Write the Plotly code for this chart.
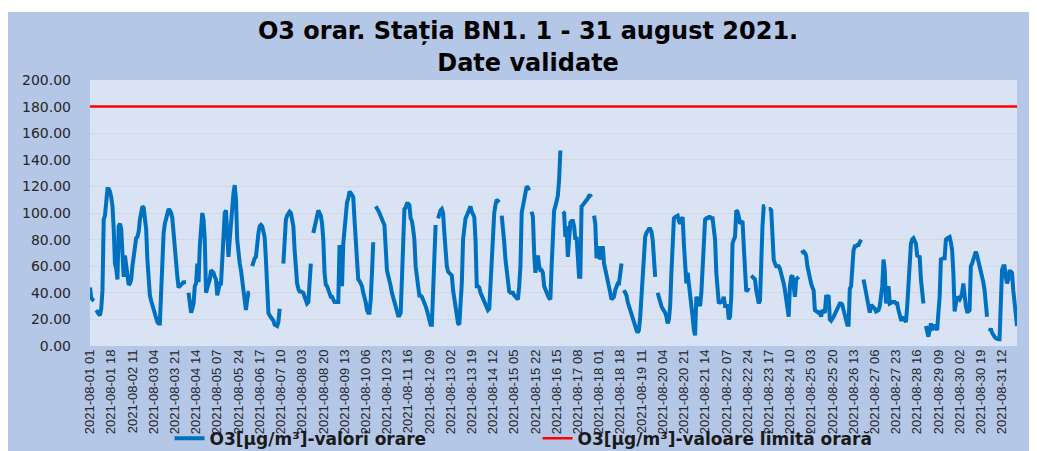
import plotly.graph_objects as go

# hourly O3 values [ug/m3], one list per day (hours 01..24), None = missing
d01 = [44, 36, 35, 36, None, 27, 25, 24, 23, 28, 42, 95, 98, 113, 118, 118, 116, 112, 105, 88, 62, 58, 50, 90]
d02 = [92, 88, 62, 52, 68, 58, 48, 46, 47, 50, 60, 67, 78, 81, 82, 86, 95, 100, 105, 104, 98, 88, 65, 45]
d03 = [38, 34, 31, 27, 24, 20, 18, 17, 17, 40, 65, 85, 92, 97, 102, 103, 102, 100, 96, 85, 68, 62, 52, 44]
d04 = [45, 46, 48, 48, 48, 48, None, 40, 30, 25, 28, 32, 45, 47, 62, 48, 75, 90, 100, 95, 80, 40, 45, 47]
d05 = [50, 57, 56, 55, 52, 50, 38, 45, 47, 47, 70, 85, 100, 102, 75, 67, 80, 92, 110, 115, 121, 110, 80, 65]
d06 = [62, 57, 48, 42, 35, 27, 35, 40, 40, None, 60, 64, 66, 67, 78, 85, 90, 91, 90, 86, 82, 65, 45, 25]
d07 = [23, 22, 21, 19, 16, 15, 15, 18, 28, None, None, 62, 80, 95, 98, 100, 101, 100, 96, 90, 72, 55, 47, 43]
d08 = [41, 41, 40, 40, 37, 33, 32, 33, 50, 62, None, 85, 90, 92, 100, 102, 100, 98, 92, 80, 55, 46, 45, 42]
d09 = [40, 37, 37, 35, 33, 33, 33, 33, 76, 60, 45, 77, 90, 100, 108, 111, 116, 115, 113, 112, 95, 75, 60, 50]
d10 = [49, 47, 45, 40, 37, 33, 27, 25, 25, 35, 55, 78, None, 105, 104, 102, 100, 97, 95, 93, 91, 65, 57, 53]
d11 = [50, 45, 40, 37, 33, 30, 27, 23, 23, 25, 50, 85, 103, 104, 107, 107, 106, 96, 94, 88, 80, 60, 50, 45]
d12 = [38, 38, 37, 35, 32, 30, 27, 22, 17, 16, 16, 50, 75, 91, None, 96, 100, 102, 103, 100, 85, 65, 60, 56]
d13 = [55, 54, 53, 42, 35, 30, 22, 17, 16, 30, 47, 80, 92, 96, 98, 100, 103, 105, 101, 99, 97, 80, 45, 45]
d14 = [44, 40, 38, 36, 33, 32, 30, 27, 28, 45, 72, 90, 100, 106, 110, 109, 108, None, 98, 90, 78, 65, 55, 45]
d15 = [41, 40, 40, 40, 38, 37, 35, 35, 45, 60, 100, 105, 110, 113, 120, 119, 117, None, 101, 97, 70, 55, 62, 68]
d16 = [60, 57, 57, 55, 45, 42, 40, 38, 36, 35, 60, 85, 102, 105, 111, 113, 125, 147, None, 101, 100, 82, 90, 67]
d17 = [80, 93, 94, 94, 90, 80, 82, 60, 52, 52, 105, 106, 107, 108, 110, 111, 113, 113, 112, None, 98, 92, 66, 72]
d18 = [75, 65, 72, 75, 62, 58, 55, 50, 45, 40, 35, 36, 37, 42, 46, 47, 47, 55, 62, None, 42, 40, 38, 33]
d19 = [30, 25, 23, 20, 18, 15, 12, 10, 12, 22, 35, 50, 70, 82, 85, 87, 88, 88, 86, 80, 60, 52, None, 40]
d20 = [36, 32, 30, 28, 27, 25, 22, 17, 20, 30, 55, 82, 96, 97, 98, 98, 94, 92, 95, 97, 77, 60, 47, 55]
d21 = [48, 41, 30, 22, 12, 8, 37, 35, 33, 30, 40, 60, 80, 95, 96, 96, 97, 97, 96, 96, 88, 80, 55, 40]
d22 = [32, 33, 33, 34, 37, 30, 30, 30, 20, 22, 37, 77, 80, 82, 102, 101, 97, 92, 93, 94, 75, 57, 41, 42]
d23 = [44, None, 53, 52, 52, 50, 42, 36, 32, 34, 70, 90, 105, 105, None, None, 103, 103, 102, 85, 65, 62, 60, 60]
d24 = [60, 58, 55, 52, 47, 42, 36, 30, 22, 45, 52, 53, 45, 37, 50, 51, 52, None, 70, 71, 71, 70, 68, 60]
d25 = [55, 50, 47, 44, 42, 27, 26, 25, 25, 26, 22, 27, 26, 25, 37, 37, 38, 20, 19, 20, 22, 24, 26, 27]
d26 = [30, 32, 32, 31, 27, 22, 17, 16, 16, 43, 45, 60, 72, 75, 75, 76, 76, 78, 80, None, 50, 45, 37, 32]
d27 = [28, 25, 31, 30, 30, 28, 26, 27, 27, 30, 38, 45, 65, 57, 32, 40, 45, 32, 33, 33, 33, 33, 32, 32]
d28 = [27, 24, 20, 20, 22, 20, 18, 30, 45, 60, 77, 80, 81, 79, 77, 68, 67, 67, 50, 40, 32, None, 15, 12]
d29 = [7, 12, 17, 12, 15, 15, 14, 12, 25, 37, 65, 66, 66, 66, 80, 81, 82, 82, 78, 72, 55, 26, 32, 37]
d30 = [36, 35, 37, 40, 47, 35, 30, 26, 26, 27, 60, 62, 65, 68, 71, 68, 64, 60, 57, 55, 48, 42, 30, 22]
d31 = [None, 11, 13, 10, 8, 7, 6, 5, 5, 5, 25, 57, 60, 60, 52, 47, 50, 56, 56, 55, 42, 30, 22, 15]

days = [d01, d02, d03, d04, d05, d06, d07, d08, d09, d10, d11, d12, d13, d14, d15, d16,
        d17, d18, d19, d20, d21, d22, d23, d24, d25, d26, d27, d28, d29, d30, d31]

limit_value = 180
label_step = 17

hours = []
o3 = []
for day_no, vals in enumerate(days, start=1):
    for h, v in enumerate(vals, start=1):
        hours.append("2021-08-%02d %02d" % (day_no, h))
        o3.append(v)
limit = [limit_value] * len(hours)

fig = go.Figure()
fig.add_trace(go.Scatter(
    x=hours, y=o3, mode="lines", connectgaps=False,
    name="O3[µg/m³]-valori orare",
    line=dict(color="#0070C0", width=4),
))
fig.add_trace(go.Scatter(
    x=hours, y=limit, mode="lines",
    name="O3[µg/m³]-valoare limită orară",
    line=dict(color="#FF0000", width=2.5),
))

# page has an 8px body margin, so the figure is sized to fill the rest of the window
fig.update_layout(
    width=1029, height=443,
    margin=dict(l=82, r=20, t=72, b=105),
    paper_bgcolor="white",
    plot_bgcolor="#DAE3F3",
    title=dict(
        text="O3 orar. Stația BN1. 1 - 31 august 2021.<br>Date validate",
        x=0.5054, xanchor="center", y=0.929, yanchor="middle",
        font=dict(family="DejaVu Sans", size=24, color="black", weight="bold"),
    ),
    legend=dict(
        orientation="h", xref="container", x=0.157, xanchor="left",
        yref="container", y=0.028, yanchor="middle",
        font=dict(family="DejaVu Sans", size=17, color="#1a1a1a", weight="bold"),
        bgcolor="rgba(0,0,0,0)", entrywidth=323, entrywidthmode="pixels",
    ),
    shapes=[
        dict(type="rect", xref="paper", yref="paper", x0=-0.0885, x1=1.014, y0=-0.5, y1=1.2556,
             fillcolor="#B4C7E7", line=dict(width=0), layer="below"),
        dict(type="rect", xref="paper", yref="paper", x0=0, x1=1, y0=0, y1=1,
             fillcolor="#DAE3F3", line=dict(width=0), layer="below"),
    ],
    showlegend=True,
)

fig.update_xaxes(
    type="category", tickmode="array", automargin=False,
    tickvals=hours[::label_step], ticktext=hours[::label_step],
    tickangle=-90, showgrid=False, zeroline=False, showline=False,
    tickfont=dict(family="Liberation Sans", size=13, color="#262626"),
)
fig.update_yaxes(
    range=[0, 200], dtick=20, tickformat=".2f", automargin=False,
    gridcolor="#D3D9E3", gridwidth=1, zeroline=False, showline=False,
    ticklabelstandoff=18,
    tickfont=dict(family="DejaVu Sans", size=14, color="#262626"),
)

fig.write_html("out.html")
